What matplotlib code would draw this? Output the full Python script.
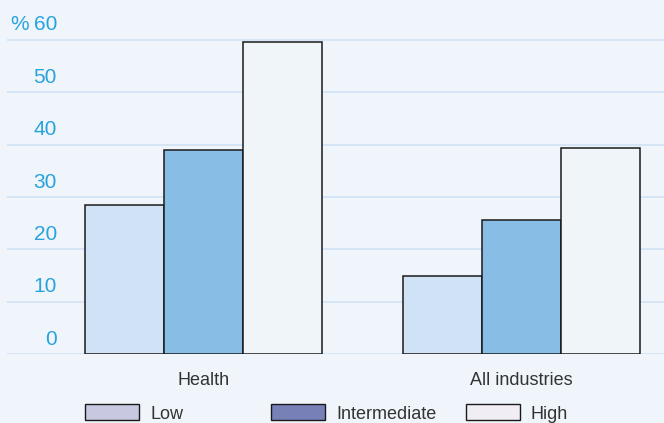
import matplotlib.pyplot as plt
import numpy as np
from matplotlib.patches import Rectangle
from matplotlib.transforms import ScaledTranslation

# data
categories = ["Health", "All industries"]
series_names = ["Low", "Intermediate", "High"]
low = [28.5, 15]
intermediate = [39, 25.7]
high = [59.6, 39.3]
y_ticks = [0, 10, 20, 30, 40, 50, 60]

bar_colors = ["#d0e3f6", "#88bde6", "#f0f5fa"]
legend_colors = ["#c8c8e0", "#7880b8", "#f0eef4"]
bg = "#eff5fa"
tick_blue = "#29a3dd"

plt.rcParams['font.family'] = ['Liberation Sans', 'DejaVu Sans']

W, H = 664, 423
fig = plt.figure(figsize=(W / 100, H / 100), dpi=100, facecolor=bg)
# axes from x=7px to the right edge, y=0 at 354px, top at ~29px
ax = fig.add_axes([7 / W, (H - 354.3) / H, 657 / W, (354.3 - 29.4) / H])
ax.set_facecolor(bg)

x = np.arange(len(categories))
width = 0.249
for i, vals in enumerate([low, intermediate, high]):
    ax.bar(x + (i - 1) * width, vals, width, color=bar_colors[i],
           edgecolor="#1a1a1a", linewidth=1.1, zorder=3)

ax.set_xlim(-0.620, 1.449)
ax.set_ylim(0, 62)
ax.set_yticks(y_ticks)
ax.set_yticklabels([])
ax.tick_params(axis='y', length=0)
ax.yaxis.grid(True, color="#d6e5f6", linewidth=1.4, zorder=0)
ax.set_axisbelow(True)
for s in ax.spines.values():
    s.set_visible(False)

ax.set_xticks(x)
ax.set_xticklabels(categories, fontsize=13, color="#333333")
ax.tick_params(axis='x', length=0, pad=12.9)

# y tick labels sit just above their gridlines, inside the plot
off = ax.get_yaxis_transform() + ScaledTranslation(0, 9.5 / 100, fig.dpi_scale_trans)
for v in y_ticks:
    ax.text(50 / 657, v, str(v), transform=off, ha='right', va='baseline',
            fontsize=15, color=tick_blue)
ax.text(3 / 657, 60, "%", transform=off, ha='left', va='baseline',
        fontsize=15, color=tick_blue)

# legend drawn by hand, the entries are unevenly spaced in the original
leg_x = [85, 271, 466]
for px, name, col in zip(leg_x, series_names, legend_colors):
    fig.add_artist(Rectangle((px / W, (H - 420) / H), 54 / W, 16 / H,
                             transform=fig.transFigure, facecolor=col,
                             edgecolor="#1a1a1a", linewidth=1.0))
    fig.text((px + 65) / W, (H - 419.3) / H, name, ha='left', va='baseline',
             fontsize=13, color="#333333")

fig.savefig("out.png", dpi=100, facecolor=bg)
